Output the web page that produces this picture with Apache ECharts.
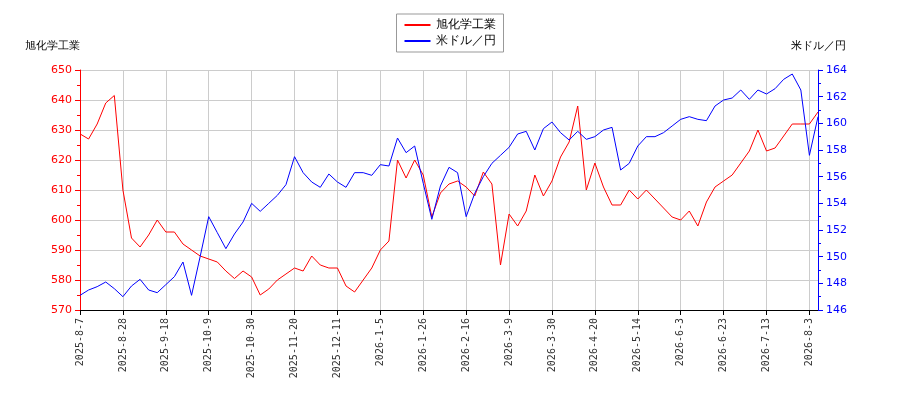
<!DOCTYPE html>
<html lang="ja">
<head>
<meta charset="utf-8">
<title>旭化学工業 と 米ドル／円</title>
<script src="https://cdn.jsdelivr.net/npm/echarts@6/dist/echarts.min.js"></script>
</head>
<body style="margin:0">
<div id="chart" style="width:900px;height:400px;"></div>
<script>
// x is trading-day index, one point every 3 trading days
var tickLabels = ['2025-8-7','2025-8-28','2025-9-18','2025-10-9','2025-10-30','2025-11-20','2025-12-11',
  '2026-1-5','2026-1-26','2026-2-16','2026-3-9','2026-3-30','2026-4-20','2026-5-14','2026-6-3',
  '2026-6-23','2026-7-13','2026-8-3'];
var stockValues = [628.7,627,632,639,641.5,610,594,591,595,600,596,596,592,590,588,587,586,583,580.5,583,
  581,575,577,580,582,584,583,588,585,584,584,578,576,580,584,590,593,620,614,620,
  615,601,609,612,
  613,611,608,616,612,585,602,598,603,615,608,613,621,626,638,610,619,611,605,605,
  610,607,610,607,604,601,600,603,598,606,611,613,615,619,623,630,623,624,628,632,
  632,632,636];
var usdjpyValues = [147.1,147.5,147.75,148.1,147.6,147,147.8,148.3,147.5,147.3,147.9,148.5,149.6,147.1,150,153,151.8,150.6,151.7,152.6,
  154,153.4,154,154.6,155.4,157.5,156.3,155.6,155.2,156.2,155.6,155.2,156.3,156.3,156.1,156.9,156.8,158.9,157.8,158.3,
  155.5,152.8,155.3,156.7,
  156.3,153,154.75,156,157,157.6,158.2,159.2,159.4,158,159.6,160.1,159.3,158.75,159.4,158.8,159,159.5,159.7,156.5,
  157,158.3,159,159,159.3,159.8,160.3,160.5,160.3,160.2,161.3,161.75,161.9,162.5,161.8,162.5,162.2,162.6,163.3,163.7,
  162.5,157.6,160.5];

function pairs(vals) {
  return vals.map(function (v, i) { return [i * 3, v]; });
}

var chart = echarts.init(document.getElementById('chart'));
var font = 'DejaVu Sans';
chart.setOption({
  animation: false,
  textStyle: { fontFamily: font },
  legend: {
    top: 14, left: 'center', orient: 'vertical',
    borderColor: '#999', borderWidth: 1, padding: [5, 8], itemGap: 4,
    itemWidth: 26, itemHeight: 2,
    textStyle: { fontSize: 12, color: '#000' },
    data: [{ name: '旭化学工業', icon: 'rect' }, { name: '米ドル／円', icon: 'rect' }]
  },
  grid: { left: 80, right: 82, top: 70, bottom: 90 },
  xAxis: {
    type: 'value', min: 0, max: 258, interval: 15,
    axisLine: { lineStyle: { color: '#000' } },
    axisTick: { lineStyle: { color: '#000' } },
    axisLabel: {
      rotate: 90, fontSize: 10, color: '#333', fontFamily: 'DejaVu Sans Mono', showMaxLabel: false,
      formatter: function (v) { return tickLabels[Math.round(v / 15)] || ''; }
    },
    splitLine: { show: true, lineStyle: { color: '#ccc' } }
  },
  yAxis: [{
    type: 'value', min: 570, max: 650, interval: 10, position: 'left',
    name: '旭化学工業', nameLocation: 'end', nameGap: 18,
    nameTextStyle: { color: '#000', fontSize: 11, align: 'right' },
    axisLine: { show: true, lineStyle: { color: 'red' } },
    axisTick: { show: true, lineStyle: { color: 'red' } },
    minorTick: { show: true, splitNumber: 2, lineStyle: { color: 'red' } },
    axisLabel: { color: 'red', fontSize: 11 },
    splitLine: { show: true, lineStyle: { color: '#ccc' } }
  }, {
    type: 'value', min: 146, max: 164, interval: 2, position: 'right',
    name: '米ドル／円', nameLocation: 'end', nameGap: 18,
    nameTextStyle: { color: '#000', fontSize: 11, align: 'center' },
    axisLine: { show: true, lineStyle: { color: 'blue' } },
    axisTick: { show: true, lineStyle: { color: 'blue' } },
    minorTick: { show: true, splitNumber: 2, lineStyle: { color: 'blue' } },
    axisLabel: { color: 'blue', fontSize: 11 },
    splitLine: { show: false }
  }],
  series: [{
    name: '旭化学工業', type: 'line', yAxisIndex: 0, showSymbol: false,
    color: 'red', lineStyle: { width: 1 }, data: pairs(stockValues)
  }, {
    name: '米ドル／円', type: 'line', yAxisIndex: 1, showSymbol: false,
    color: 'blue', lineStyle: { width: 1 }, data: pairs(usdjpyValues)
  }]
});
</script>
</body>
</html>
